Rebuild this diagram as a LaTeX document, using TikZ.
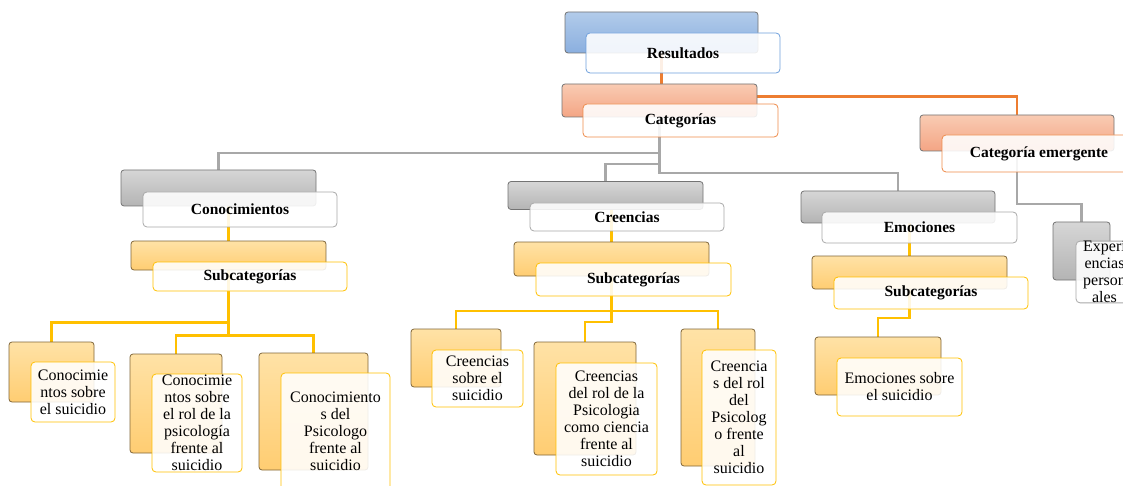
\documentclass[tikz,border=0pt]{standalone}
\usepackage{fontspec}
\setmainfont{Liberation Serif}
\usetikzlibrary{backgrounds}
\definecolor{blueTop}{HTML}{B2CBEA}
\definecolor{blueBot}{HTML}{8AAFDF}
\definecolor{blueEdge}{HTML}{6FA0DC}
\definecolor{orangeTop}{HTML}{F9CBB3}
\definecolor{orangeBot}{HTML}{F4A584}
\definecolor{orangeEdge}{HTML}{EE8A4A}
\definecolor{orangeLine}{HTML}{ED7D31}
\definecolor{grayTop}{HTML}{D6D6D6}
\definecolor{grayBot}{HTML}{B4B4B4}
\definecolor{grayEdge}{HTML}{A8A8A8}
\definecolor{yellowTop}{HTML}{FFE2A6}
\definecolor{yellowBot}{HTML}{FFCD72}
\definecolor{yellowEdge}{HTML}{FFC000}

\begin{document}
\begin{tikzpicture}[x=1pt,y=-1pt,
  wh/.style 2 args={minimum width=#1,minimum height=#2},
  back/.style={draw=black!55,rounded corners=3pt,inner sep=0pt,line width=0.8pt},
  front/.style={fill=white,fill opacity=0.88,text opacity=1,rounded corners=4pt,inner sep=0pt,align=center,line width=0.8pt},
  head/.style={front,font=\fontsize{15.5}{17}\selectfont\bfseries},
  leaf/.style={front,font=\fontsize{16}{17}\selectfont},
  blueback/.style={back,top color=blueTop,bottom color=blueBot},
  orangeback/.style={back,top color=orangeTop,bottom color=orangeBot},
  grayback/.style={back,top color=grayTop,bottom color=grayBot},
  yellowback/.style={back,draw=black!50!yellowBot,top color=yellowTop,bottom color=yellowBot},
  gline/.style={draw=grayEdge,line width=2.8pt},
  yline/.style={draw=yellowEdge,line width=2.8pt},
  oline/.style={draw=orangeLine,line width=2.5pt}]
\useasboundingbox (0,0) rectangle (1123,486);
% Top of the tree
\node[blueback,wh={193pt}{41pt}] (resB) at (661.5,32.5) {};
\node[head,draw=blueEdge,wh={194pt}{40pt}] (resF) at (683,53) {Resultados};
\node[orangeback,wh={195pt}{33pt}] (catB) at (659.5,100.5) {};
\node[head,draw=orangeEdge,wh={195pt}{33pt}] (catF) at (680.5,120.5) {Categorías};
% Emergent category
\node[orangeback,wh={194pt}{36pt}] (emgB) at (1017,133) {};
\node[head,draw=orangeEdge,wh={194pt}{37pt}] (emgF) at (1039,153.5) {Categoría emergente};
\node[grayback,wh={57pt}{58pt}] (expB) at (1081.5,251) {};
\node[leaf,draw=grayEdge,wh={57pt}{60pt}] (expF) at (1104.5,272) {Experi\\encias\\person\\ales};
% Conocimientos branch
\node[grayback,wh={195pt}{36pt}] (conoB) at (218.5,188) {};
\node[head,draw=grayEdge,wh={194pt}{35pt}] (conoF) at (240,209.5) {Conocimientos};
\node[yellowback,wh={195pt}{29pt}] (kSubB) at (228.5,255.5) {};
\node[head,draw=yellowEdge,wh={194pt}{29pt}] (kSubF) at (250,276.5) {Subcategorías};
\node[yellowback,wh={85pt}{60pt}] (k1B) at (51.5,372) {};
\node[leaf,draw=yellowEdge,wh={84pt}{60pt}] (k1F) at (73,392) {Conocimie\\ntos sobre\\el suicidio};
\node[yellowback,wh={92pt}{99pt}] (k2B) at (176,403.5) {};
\node[leaf,draw=yellowEdge,wh={90pt}{98pt}] (k2F) at (197,423) {Conocimie\\ntos sobre\\el rol  de la\\psicología\\frente al\\suicidio};
\node[yellowback,wh={109pt}{117pt}] (k3B) at (313.5,411.5) {};
\node[leaf,draw=yellowEdge,wh={109pt}{117pt}] (k3F) at (335.5,431.5) {Conocimiento\\s del\\Psicologo\\frente al\\suicidio};
% Creencias branch
\node[grayback,wh={195pt}{28pt}] (creB) at (605.5,195.5) {};
\node[head,draw=grayEdge,wh={194pt}{28pt}] (creF) at (627,217) {Creencias};
\node[yellowback,wh={195pt}{34pt}] (cSubB) at (611.5,259) {};
\node[head,draw=yellowEdge,wh={195pt}{33pt}] (cSubF) at (633.5,279.5) {Subcategorías};
\node[yellowback,wh={90pt}{58pt}] (c1B) at (456,358) {};
\node[leaf,draw=yellowEdge,wh={91pt}{57pt}] (c1F) at (477.5,378.5) {Creencias\\sobre el\\suicidio};
\node[yellowback,wh={102pt}{113pt}] (c2B) at (585,398.5) {};
\node[leaf,draw=yellowEdge,wh={101pt}{112pt}] (c2F) at (606.5,419) {Creencias\\del rol de la\\Psicologia\\como ciencia\\frente al\\suicidio};
\node[yellowback,wh={74pt}{137pt}] (c3B) at (718,397.5) {};
\node[leaf,draw=yellowEdge,wh={74pt}{135pt}] (c3F) at (739,417.5) {Creencia\\s del rol\\del\\Psicolog\\o frente\\al\\suicidio};
% Emociones branch
\node[grayback,wh={194pt}{32pt}] (emoB) at (898,207) {};
\node[head,draw=grayEdge,wh={195pt}{31pt}] (emoF) at (919.5,227.5) {Emociones};
\node[yellowback,wh={195pt}{33pt}] (eSubB) at (909.5,272.5) {};
\node[head,draw=yellowEdge,wh={194pt}{32pt}] (eSubF) at (931,293) {Subcategorías};
\node[yellowback,wh={126pt}{58pt}] (e1B) at (878,366) {};
\node[leaf,draw=yellowEdge,wh={125pt}{58pt}] (e1F) at (899.5,387) {Emociones sobre\\el suicidio};
% Connectors behind the boxes
\begin{scope}[on background layer]
\draw[oline] (resB.center) -- (resB.center |- catB.north);
\draw[oline] ([yshift=4pt]catB.east) -| (emgB.north);
\draw[gline] (catB.center) -- ++(0,52.5) -| (conoB.north);
\draw[gline] (catB.center) -- ++(0,63.5) -| (creB.north);
\draw[gline] (catB.center) -- ++(0,72.5) -| (emoB.north);
\draw[gline] (emgB.center) -- ++(0,71) -| (expB.north);
\draw[yline] (kSubB.center |- conoB.center) -- (kSubB.north);
\draw[yline] (kSubB.center) -- ++(0,67) -| (k1B.north);
\draw[yline] (kSubB.center) -- ++(0,80) -| (k2B.north);
\draw[yline] (kSubB.center) -- ++(0,80) -| (k3B.north);
\draw[yline] (cSubB.center |- creB.center) -- (cSubB.north);
\draw[yline] (cSubB.center) -- ++(0,52) -| (c1B.north);
\draw[yline] (cSubB.center) -- ++(0,63) -| (c2B.north);
\draw[yline] (cSubB.center) -- ++(0,52) -| (c3B.north);
\draw[yline] (eSubB.center |- emoB.center) -- (eSubB.north);
\draw[yline] (eSubB.center) -- ++(0,45.5) -| (e1B.north);
\end{scope}
\end{tikzpicture}
\end{document}
